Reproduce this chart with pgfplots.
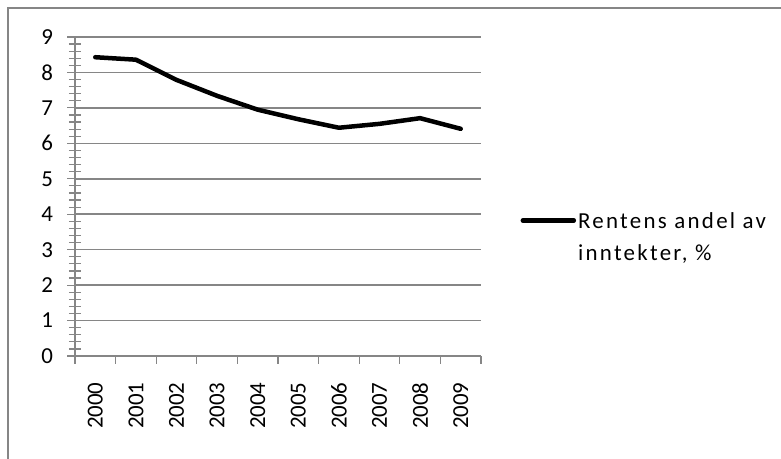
\documentclass[border=0pt]{standalone}
\usepackage{pgfplots}
\pgfplotsset{compat=1.18}
\usepackage{fontspec}
\setmainfont{Carlito}
\newfontfamily\legendfont[LetterSpace=10]{Carlito}
\definecolor{gridgray}{HTML}{868686}

\pgfplotstableread{
idx value
0 8.43
1 8.36
2 7.79
3 7.34
4 6.95
5 6.68
6 6.44
7 6.55
8 6.71
9 6.41
}\rentedata

\begin{document}
\begin{tikzpicture}
\useasboundingbox (0,0) rectangle (781bp,459bp);
% chart frame
\draw[gridgray, line width=1.5bp] (8bp,-5bp) -- (8bp,451bp) -- (790bp,451bp);
\begin{axis}[
  at={(75bp,103bp)}, anchor=south west,
  scale only axis, width=406bp, height=319bp,
  font=\fontsize{23}{28}\selectfont,
  /pgf/number format/assume math mode=true,
  xmin=-0.5, xmax=9.5, ymin=0, ymax=9,
  axis x line*=bottom, axis y line*=left,
  axis line style={gridgray, line width=1.5bp, -},
  xtick={-0.5,0.5,...,9.5},
  xticklabels={2000,2001,2002,2003,2004,2005,2006,2007,2008,2009},
  x tick label as interval,
  xtick pos=left, ytick pos=left,
  xtick align=outside, ytick align=center,
  xtick style={gridgray, line width=1.2bp, /pgfplots/major tick length=8bp},
  ytick={0,1,...,9},
  minor y tick num=4,
  ytick style={gridgray, line width=1.2bp},
  major tick length=15bp, minor tick length=12bp,
  ymajorgrids,
  major grid style={gridgray, line width=1.5bp},
  xticklabel style={rotate=90, anchor=east},
  xticklabel shift=8bp,
  yticklabel style={anchor=east},
  yticklabel shift=11bp,
  legend style={at={(axis description cs:1.097,0.428)}, anchor=west,
    draw=none, fill=none, inner sep=0pt,
    cells={anchor=base west}},
  legend cell align=left,
  legend image code/.code={\draw[#1] (0bp,-1bp) -- (51bp,-1bp);},
]
\addplot[black, line width=4.5bp, line join=round, line cap=round]
  table[x=idx, y=value] {\rentedata};
\addlegendentry{\legendfont\begin{tabular}[t]{@{}l@{}}Rentens andel av\\[4bp]inntekter, \%\end{tabular}}
\end{axis}
\end{tikzpicture}
\end{document}
